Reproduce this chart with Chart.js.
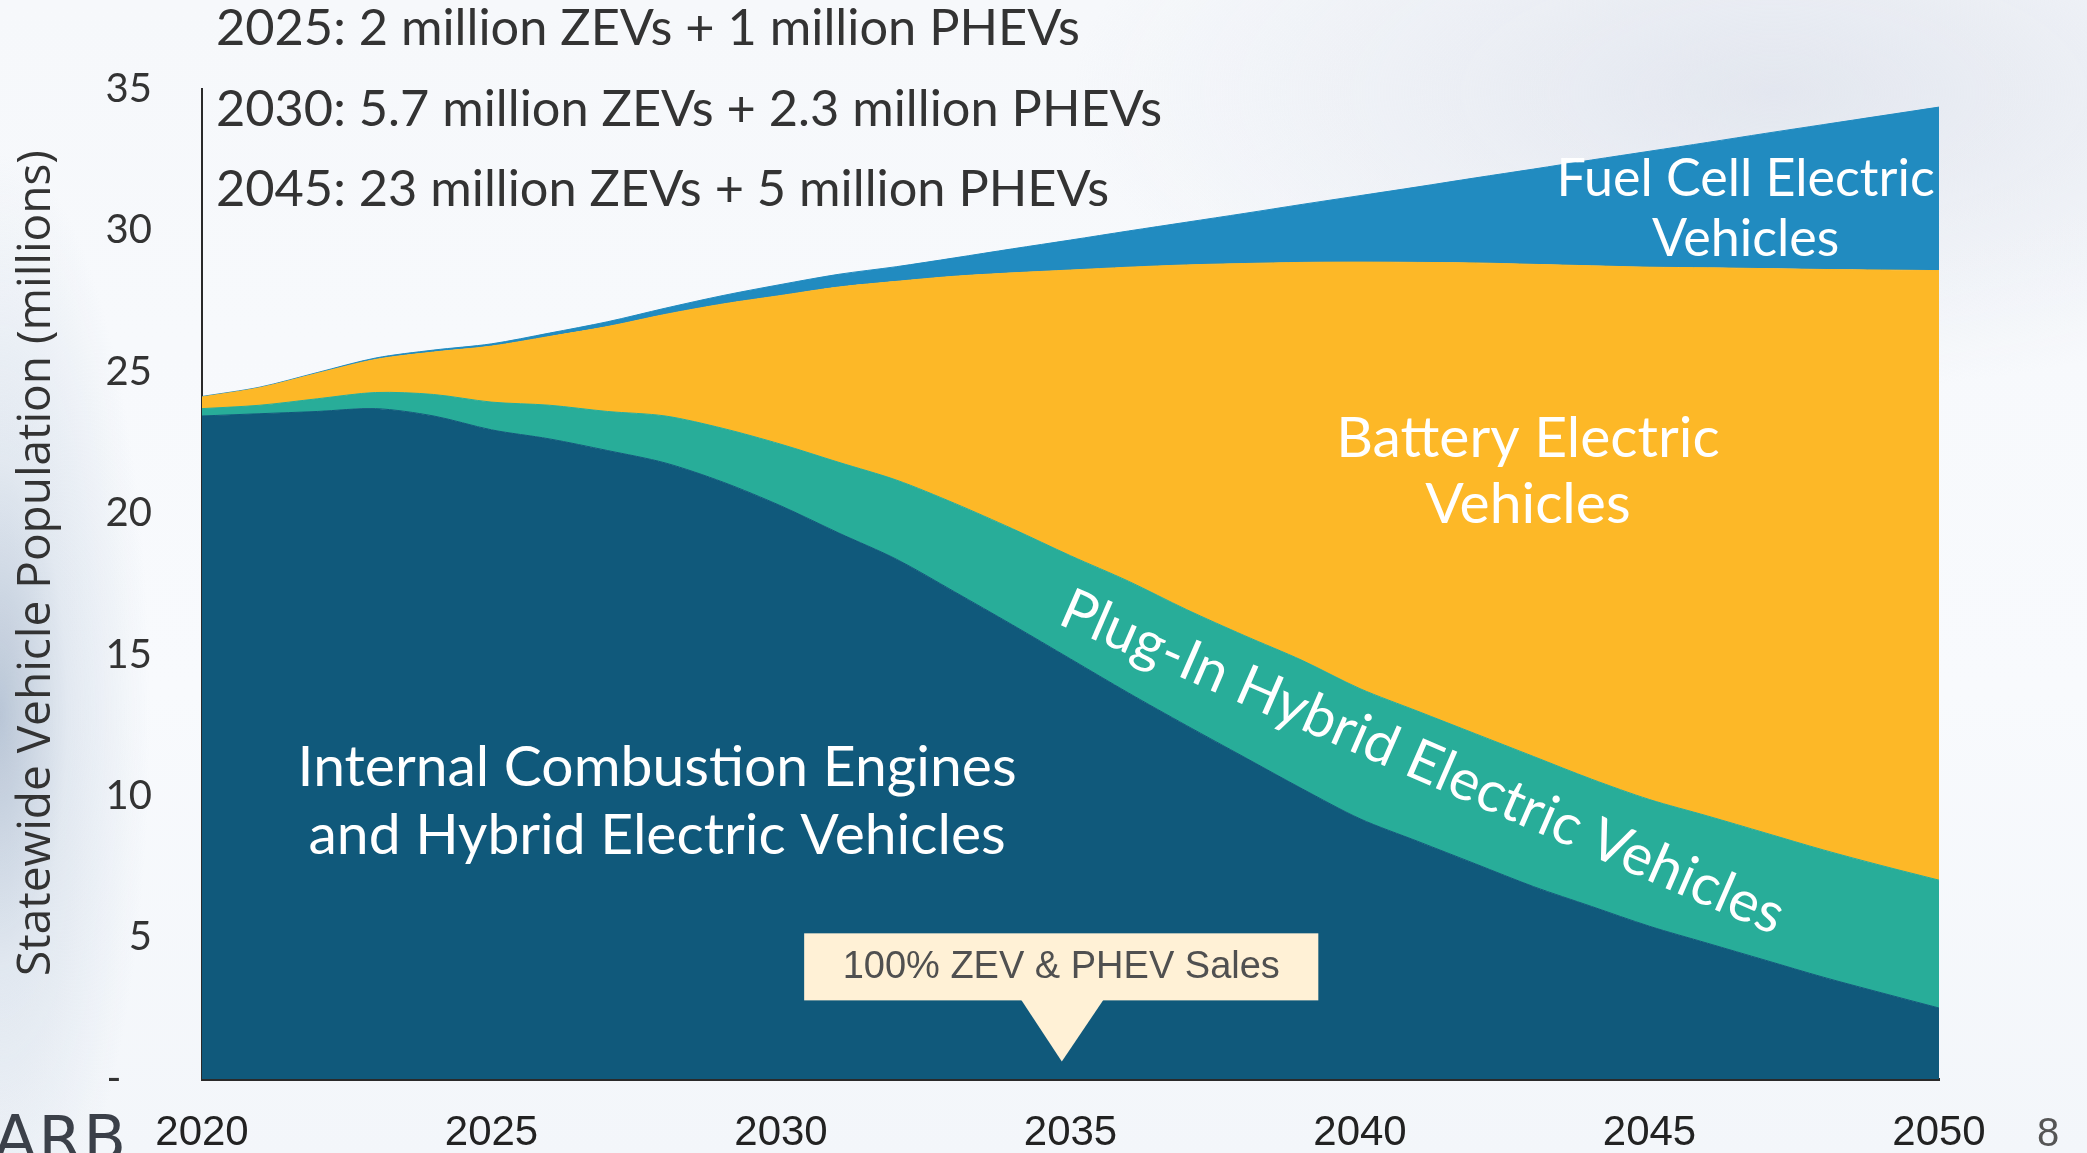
<!DOCTYPE html>
<html>
<head>
<meta charset="utf-8">
<script src="https://cdn.jsdelivr.net/npm/chart.js@4.4.1/dist/chart.umd.min.js"></script>
<style>
html, body { margin: 0; padding: 0; width: 2087px; height: 1153px; overflow: hidden; }
body {
    background:
        radial-gradient(ellipse 150px 560px at 0% 62%, rgba(170,185,205,0.8) 0%, rgba(200,212,226,0.45) 45%, rgba(240,244,250,0) 100%),
        radial-gradient(ellipse 700px 300px at 85% 8%, rgba(225,229,238,0.9) 0%, rgba(240,243,248,0) 100%),
        linear-gradient(180deg, #f6f8fb 0%, #f8fafd 60%, #f3f6fa 100%);
}
#chartBox { position: absolute; left: 0; top: 0; width: 2087px; height: 1153px; }
.logo { position: absolute; left: -6px; top: 1102px; font: 62px 'DejaVu Sans'; color: #3b4049; letter-spacing: 2px; }
.page { position: absolute; left: 2037px; top: 1110px; font: 40px 'Liberation Sans'; color: #555; }
</style>
</head>
<body>
<div id="chartBox"><canvas id="evChart" width="2087" height="1153"></canvas></div>
<div class="logo">ARB</div>
<div class="page">8</div>
<script>
const years = [2020, 2021, 2022, 2023, 2024, 2025, 2026, 2027, 2028, 2029, 2030,
    2031, 2032, 2033, 2034, 2035, 2036, 2037, 2038, 2039, 2040,
    2041, 2042, 2043, 2044, 2045, 2046, 2047, 2048, 2049, 2050];

// millions of vehicles
const iceHev = [23.44, 23.52, 23.60, 23.70, 23.44, 22.95, 22.63, 22.22, 21.78, 21.10, 20.26,
    19.30, 18.37, 17.22, 16.05, 14.85, 13.65, 12.50, 11.38, 10.26, 9.20,
    8.40, 7.60, 6.80, 6.10, 5.40, 4.80, 4.20, 3.60, 3.05, 2.51];
const phev = [0.26, 0.30, 0.45, 0.57, 0.76, 0.98, 1.19, 1.38, 1.66, 1.90, 2.18,
    2.50, 2.80, 3.13, 3.40, 3.65, 3.95, 4.10, 4.30, 4.54, 4.60,
    4.60, 4.60, 4.60, 4.50, 4.48, 4.50, 4.50, 4.50, 4.50, 4.52];
const bev = [0.41, 0.62, 0.90, 1.17, 1.50, 1.98, 2.43, 3.00, 3.59, 4.40, 5.26,
    6.20, 7.03, 8.03, 9.05, 10.10, 11.10, 12.18, 13.15, 14.07, 15.08,
    15.87, 16.65, 17.40, 18.15, 18.82, 19.38, 19.95, 20.52, 21.05, 21.55];
const fcev = [0.02, 0.02, 0.03, 0.05, 0.07, 0.08, 0.12, 0.17, 0.22, 0.30, 0.39,
    0.45, 0.52, 0.65, 0.85, 1.06, 1.28, 1.51, 1.77, 2.05, 2.35,
    2.67, 3.01, 3.37, 3.74, 4.10, 4.43, 4.78, 5.12, 5.45, 5.78];

const yTicks = [0, 5, 10, 15, 20, 25, 30, 35];
const targets = [
    '2025: 2 million ZEVs + 1 million PHEVs',
    '2030: 5.7 million ZEVs + 2.3 million PHEVs',
    '2045: 23 million ZEVs + 5 million PHEVs'
];
const callout = '100% ZEV & PHEV Sales';

const colors = {
    ice: '#10597b',
    phev: '#28ad99',
    bev: '#fdb827',
    fcev: '#218bc0'
};

function area(label, data, color, fill) {
    return {
        label: label,
        data: data,
        backgroundColor: color,
        borderColor: color,
        borderWidth: 1,
        pointRadius: 0,
        tension: 0.3,
        fill: fill
    };
}

// labels, notes and the callout, placed with the chart's own scales
const notesPlugin = {
    id: 'notes',
    afterDatasetsDraw(chart) {
        const ctx = chart.ctx;
        const x = chart.scales.x;
        const y = chart.scales.y;
        const px = yr => x.getPixelForValue(yr - years[0]);
        const py = v => y.getPixelForValue(v);

        ctx.save();
        ctx.fillStyle = '#fff';
        ctx.textAlign = 'center';
        ctx.textBaseline = 'middle';
        ctx.font = '57px Lato';
        ctx.fillText('Internal Combustion Engines', px(2027.86), py(11.0));
        ctx.fillText('and Hybrid Electric Vehicles', px(2027.86), py(8.6));
        ctx.fillText('Battery Electric', px(2042.9), py(22.65));
        ctx.fillText('Vehicles', px(2042.9), py(20.3));
        ctx.font = '52px Lato';
        ctx.fillText('Fuel Cell Electric', px(2046.66), py(31.8));
        ctx.fillText('Vehicles', px(2046.66), py(29.7));

        // rotated PHEV label along the band
        ctx.save();
        ctx.translate(px(2040.95), py(10.6));
        ctx.rotate(23.5 * Math.PI / 180);
        ctx.textBaseline = 'alphabetic';
        ctx.font = '57px Lato';
        ctx.fillText('Plug-In Hybrid Electric Vehicles', 0, 0);
        ctx.restore();

        // callout box with pointer to 2035
        const tipX = px(2034.85), tipY = py(0.62);
        const boxL = px(2030.4), boxR = px(2039.28);
        const boxT = py(5.15), boxB = py(2.78);
        ctx.fillStyle = '#fff1d6';
        ctx.fillRect(boxL, boxT, boxR - boxL, boxB - boxT);
        ctx.beginPath();
        ctx.moveTo(tipX - 41, boxB - 1);
        ctx.lineTo(tipX + 42, boxB - 1);
        ctx.lineTo(tipX, tipY);
        ctx.closePath();
        ctx.fill();
        ctx.fillStyle = '#505050';
        ctx.font = '38px "Liberation Sans"';
        ctx.fillText(callout, (boxL + boxR) / 2, (boxT + boxB) / 2 + 1);
        ctx.restore();
    },
    afterDraw(chart) {
        const ctx = chart.ctx;
        ctx.save();
        ctx.fillStyle = '#333';
        ctx.textAlign = 'left';
        ctx.textBaseline = 'middle';
        ctx.font = '50.5px Lato';
        targets.forEach((t, i) => ctx.fillText(t, 216, 29 + i * 80.5));

        ctx.translate(37, 563);
        ctx.rotate(-Math.PI / 2);
        ctx.textAlign = 'center';
        ctx.font = '46px "Open Sans"';
        ctx.fillText('Statewide Vehicle Population (millions)', 0, 0);
        ctx.restore();
    }
};

document.addEventListener('DOMContentLoaded', () => {
    const ctx = document.getElementById('evChart').getContext('2d');

    new Chart(ctx, {
        type: 'line',
        data: {
            labels: years,
            datasets: [
                area('Internal Combustion Engines and Hybrid Electric Vehicles', iceHev, colors.ice, 'origin'),
                area('Plug-In Hybrid Electric Vehicles', phev, colors.phev, '-1'),
                area('Battery Electric Vehicles', bev, colors.bev, '-1'),
                area('Fuel Cell Electric Vehicles', fcev, colors.fcev, '-1')
            ]
        },
        options: {
            responsive: false,
            animation: false,
            devicePixelRatio: 1,
            layout: {
                padding: { top: 89, right: 148, bottom: 0, left: 0 }
            },
            plugins: {
                legend: { display: false },
                tooltip: { enabled: false }
            },
            scales: {
                x: {
                    grid: { display: false, drawTicks: false },
                    border: { display: true, color: '#2a2a2a', width: 3 },
                    ticks: {
                        autoSkip: false,
                        maxRotation: 0,
                        padding: 29,
                        color: '#222',
                        font: { family: 'Liberation Sans', size: 42 },
                        callback: (v, i) => years[i] % 5 === 0 ? String(years[i]) : null
                    },
                    afterFit: s => { s.height = 72; }
                },
                y: {
                    stacked: true,
                    min: 0,
                    max: 35,
                    afterBuildTicks: s => { s.ticks = yTicks.map(v => ({ value: v })); },
                    grid: { display: false, drawTicks: false },
                    border: { display: true, color: '#2a2a2a', width: 2 },
                    ticks: {
                        padding: 50,
                        color: '#333',
                        font: { family: 'Lato', size: 40 },
                        callback: v => v === 0 ? '-   ' : v
                    },
                    afterFit: s => { s.width = 202; }
                }
            }
        },
        plugins: [notesPlugin]
    });
});
</script>
</body>
</html>
